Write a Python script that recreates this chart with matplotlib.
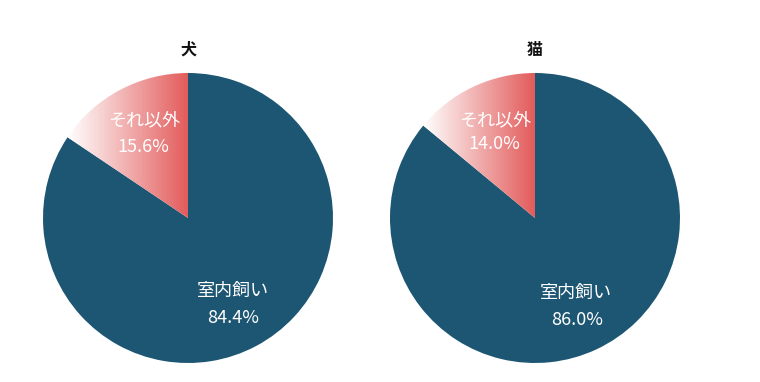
import matplotlib
matplotlib.use("Agg")
import matplotlib.pyplot as plt
import numpy as np
from matplotlib.colors import LinearSegmentedColormap

plt.rcParams['font.family'] = ['Noto Sans CJK JP', 'DejaVu Sans']

titles = ["犬", "猫"]
categories = ["室内飼い", "それ以外"]
indoor = [84.4, 86.0]
other = [15.6, 14.0]

W, H = 760, 382
fig = plt.figure(figsize=(W / 100, H / 100), dpi=100)
ax = fig.add_axes([0, 0, 1, 1])

dark = '#1d5673'
cmap = LinearSegmentedColormap.from_list('g', ['#ffffff', '#e35b5b'])

centers = [(188, H - 218), (535, H - 218)]
R = 145

for i, (cx, cy) in enumerate(centers):
    wedges, _ = ax.pie([indoor[i], other[i]], center=(cx, cy), radius=R,
                       startangle=90, counterclock=False,
                       colors=[dark, 'none'], wedgeprops=dict(linewidth=0))
    w = wedges[1]
    theta_end = 90 + other[i] / 100 * 360
    xmin = cx + R * np.cos(np.radians(theta_end))
    grad = np.linspace(0, 1, 256).reshape(1, -1)
    im = ax.imshow(grad, cmap=cmap, extent=[xmin, cx, cy, cy + R],
                   aspect='auto', zorder=3, interpolation='bilinear')
    im.set_clip_path(w)

    ax.text(cx, H - 50, titles[i], ha='center', va='center', fontsize=11.5,
            fontweight='bold', color='#111111')

ax.set_xlim(0, W)
ax.set_ylim(0, H)
ax.set_aspect('equal')
ax.axis('off')

fs = 13
lab_other = [(144, 120, 143, 147), (495, 120, 494, 144)]
lab_in = [(233, 291, 233, 318), (576, 293, 577, 320)]
for i in range(2):
    x1, y1, x2, y2 = lab_other[i]
    ax.text(x1, H - y1, categories[1], ha='center', va='center', fontsize=fs,
            color='white', zorder=5)
    ax.text(x2, H - y2, f"{other[i]:.1f}%", ha='center', va='center', fontsize=fs,
            color='white', zorder=5)
    x1, y1, x2, y2 = lab_in[i]
    ax.text(x1, H - y1, categories[0], ha='center', va='center', fontsize=fs,
            color='white', zorder=5)
    ax.text(x2, H - y2, f"{indoor[i]:.1f}%", ha='center', va='center', fontsize=fs,
            color='white', zorder=5)

fig.savefig('out.png', dpi=100, facecolor='white')
